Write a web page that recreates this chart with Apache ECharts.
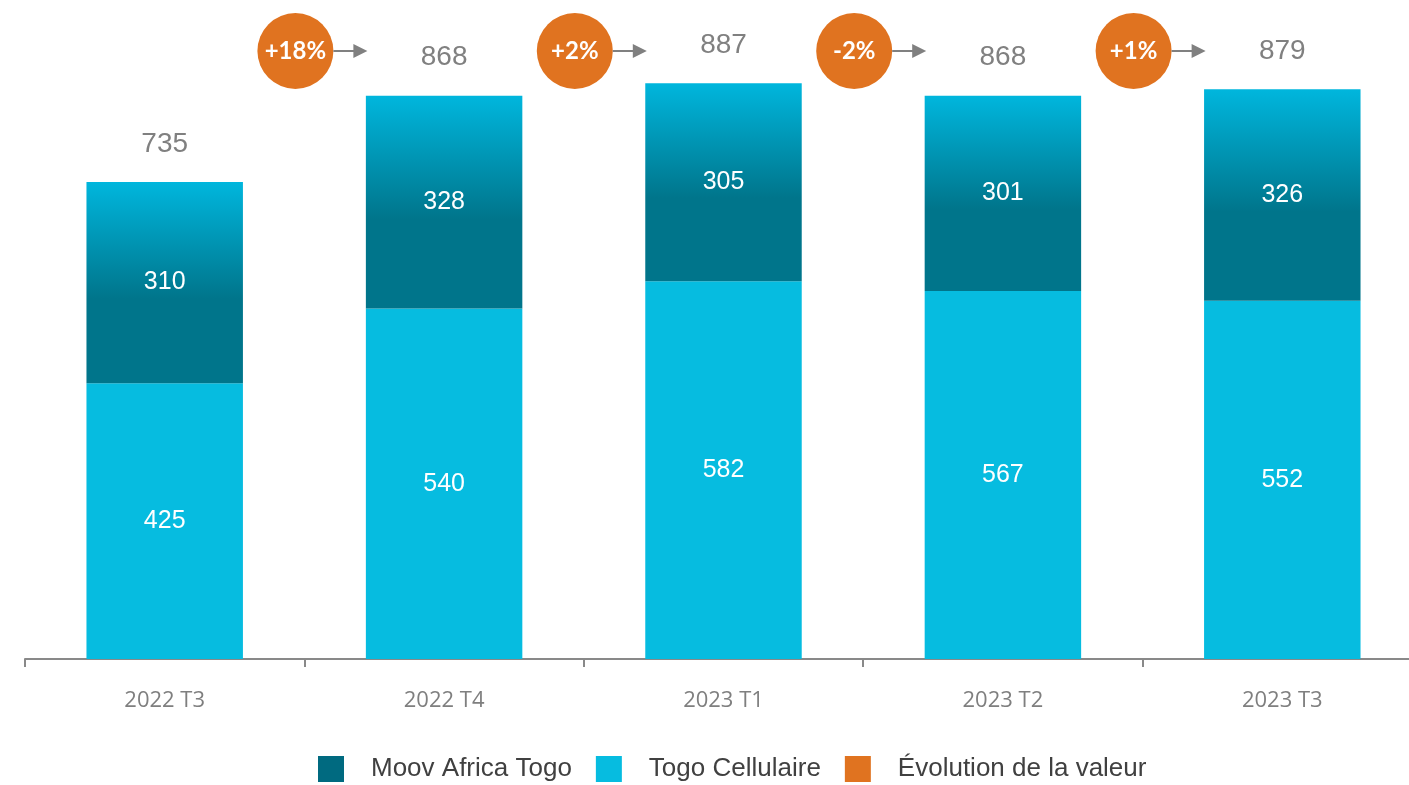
<!DOCTYPE html>
<html>
<head>
<meta charset="utf-8">
<script src="https://cdn.jsdelivr.net/npm/echarts@6/dist/echarts.min.js"></script>
<style>
  html, body { margin: 0; padding: 0; background: #fff; }
  #chart { width: 1409px; height: 785px; }
</style>
</head>
<body>
<div id="chart"></div>
<script>
// données
const categories = ['2022 T3', '2022 T4', '2023 T1', '2023 T2', '2023 T3'];
const togoCellulaire = [425, 540, 582, 567, 552];
const moovAfrica = [310, 328, 305, 301, 326];
const totals = [735, 868, 887, 868, 879];
const growth = ['+18%', '+2%', '-2%', '+1%']; // entre deux trimestres consécutifs

const ORANGE = '#E07320';
const SANS = 'Arial, Liberation Sans, sans-serif';
const chart = echarts.init(document.getElementById('chart'));

const option = {
    animation: false,
    grid: { left: 25, width: 1397, top: 10, bottom: 126, outerBoundsMode: 'none' },
    legend: {
        left: 313,
        top: 751,
        itemWidth: 26,
        itemHeight: 26,
        itemGap: 24,
        icon: 'rect',
        textStyle: { fontFamily: SANS, fontSize: 26, color: '#404040', padding: [0, 0, 0, 22] },
        data: [
            { name: 'Moov Africa Togo', itemStyle: { color: '#006A80' } },
            'Togo Cellulaire',
            'Évolution de la valeur'
        ]
    },
    xAxis: {
        type: 'category',
        data: categories,
        axisLine: { lineStyle: { color: '#898989', width: 2 } },
        axisTick: { show: true, length: 8, lineStyle: { color: '#898989', width: 2 } },
        axisLabel: { margin: 31, color: '#7f7f7f', fontSize: 22, fontFamily: 'Open Sans' }
    },
    yAxis: { type: 'value', min: 0, max: 1000, show: false },
    series: [
        {
            name: 'Togo Cellulaire',
            type: 'bar',
            stack: 'total',
            barWidth: '56%',
            itemStyle: { color: '#06BCE0' },
            label: { show: true, position: 'inside', color: '#fff', fontSize: 25, fontFamily: SANS },
            data: togoCellulaire
        },
        {
            name: 'Moov Africa Togo',
            type: 'bar',
            stack: 'total',
            barWidth: '56%',
            itemStyle: {
                color: new echarts.graphic.LinearGradient(0, 0, 0, 1, [
                    { offset: 0, color: '#00B6DD' },
                    { offset: 0.58, color: '#00758B' },
                    { offset: 1, color: '#00758B' }
                ])
            },
            label: { show: true, position: 'inside', color: '#fff', fontSize: 25, fontFamily: SANS },
            data: moovAfrica
        },
        {
            // total au-dessus de la pile
            name: 'Total',
            type: 'bar',
            stack: 'total',
            barWidth: '56%',
            data: totals.map(() => 0),
            label: {
                show: true,
                position: 'top',
                distance: 24,
                color: '#808080',
                fontSize: 28,
                fontFamily: SANS,
                formatter: p => totals[p.dataIndex]
            }
        },
        {
            name: 'Évolution de la valeur',
            type: 'custom',
            itemStyle: { color: ORANGE },
            encode: { x: 0, y: 1 },
            data: growth.map((g, i) => [i + 1, 0]),
            renderItem: (params, api) => {
                const pt = api.coord([api.value(0), 0]);
                const half = api.size([1, 0])[0] / 2;
                const cx = pt[0] - half - 9;
                const cy = params.coordSys.y + 41;
                const r = 38;
                return {
                    type: 'group',
                    children: [
                        { type: 'circle', shape: { cx: cx, cy: cy, r: r }, style: { fill: ORANGE } },
                        {
                            type: 'text',
                            style: {
                                text: growth[params.dataIndex],
                                x: cx, y: cy,
                                fill: '#fff',
                                font: 'bold 24px Lato',
                                align: 'center',
                                verticalAlign: 'middle'
                            }
                        },
                        { type: 'line', shape: { x1: cx + r, y1: cy, x2: cx + 60, y2: cy }, style: { stroke: '#808080', lineWidth: 2 } },
                        { type: 'polygon', shape: { points: [[cx + 58, cy - 7], [cx + 72, cy], [cx + 58, cy + 7]] }, style: { fill: '#808080' } }
                    ]
                };
            }
        }
    ]
};
chart.setOption(option);
</script>
</body>
</html>
